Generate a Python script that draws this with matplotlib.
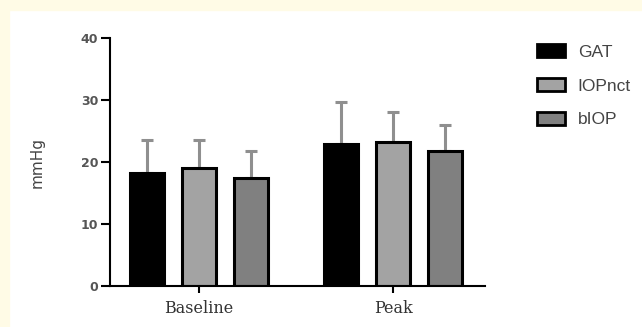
import numpy as np
import matplotlib
matplotlib.use("Agg")
import matplotlib.pyplot as plt
from matplotlib.patches import Rectangle, Patch
from matplotlib import font_manager

# data
groups = ["Baseline", "Peak"]
series = ["GAT", "IOPnct", "bIOP"]
gat = [18.3, 22.9]
iopnct = [19.0, 23.2]
biop = [17.5, 21.8]
gat_sd = [5.2, 6.8]
iopnct_sd = [4.5, 4.9]
biop_sd = [4.3, 4.2]

colors = ["#000000", "#a3a3a3", "#808080"]
means = [gat, iopnct, biop]
sds = [gat_sd, iopnct_sd, biop_sd]

names = {f.name for f in font_manager.fontManager.ttflist}
narrow = "Liberation Sans Narrow" if "Liberation Sans Narrow" in names else "Liberation Sans"

fig = plt.figure(figsize=(6.42, 3.27), dpi=100)
fig.patch.set_facecolor("white")
# cream frame on the left and top
fig.patches.append(Rectangle((0, 0), 9 / 642, 1, transform=fig.transFigure,
                             color="#fffbe6", zorder=0))
fig.patches.append(Rectangle((0, 1 - 10 / 327), 1, 10 / 327, transform=fig.transFigure,
                             color="#fffbe6", zorder=0))

ax = fig.add_axes([110 / 642, 1 - 286 / 327, 375 / 642, 248 / 327])

x = np.arange(len(groups))
width = 0.175
offsets = [-0.27, 0.0, 0.27]
for vals, err, c, off, name in zip(means, sds, colors, offsets, series):
    eb = ax.errorbar(x + off, vals, yerr=[np.zeros(len(err)), err], fmt="none",
                     ecolor="#8f8f8f", elinewidth=2.2, capsize=4.5, capthick=2.2, zorder=1)
    for cap in eb[1]:
        cap.set_color("#5a5a5a")
    ax.bar(x + off, vals, width, color=c, edgecolor="black", linewidth=2.2,
           label=name, zorder=2)

ax.set_xlim(-0.459, 1.474)
ax.set_ylim(0, 40)
ax.set_yticks([0, 10, 20, 30, 40])
ax.set_xticks(x)
ax.set_xticklabels(groups, family="DejaVu Serif", fontsize=11.5, color="#333333")
for lbl in ax.get_yticklabels():
    lbl.set_fontsize(9)
    lbl.set_fontweight("bold")
    lbl.set_color("#555555")
ax.tick_params(axis="y", length=6.5, width=1.5, pad=2)
ax.tick_params(axis="x", length=5, width=1.5, pad=5)
ax.spines["top"].set_visible(False)
ax.spines["right"].set_visible(False)
ax.spines["left"].set_linewidth(1.5)
ax.spines["bottom"].set_linewidth(1.5)
ax.set_facecolor("none")

fig.text(37 / 642, 1 - 162 / 327, "mmHg", rotation=90, ha="center", va="center",
         fontsize=11, color="#444444")

handles = [Patch(facecolor=c, edgecolor="black", linewidth=2.0) for c in colors]
fig.legend(handles, series, loc="upper left", bbox_to_anchor=(537 / 642, 1 - 44 / 327),
           frameon=False, prop={"family": narrow, "size": 12.5}, handlelength=1.6,
           handleheight=0.8, labelspacing=1.05, handletextpad=0.75, borderaxespad=0,
           borderpad=0, labelcolor="#444444")

fig.savefig("out.png", dpi=100)
